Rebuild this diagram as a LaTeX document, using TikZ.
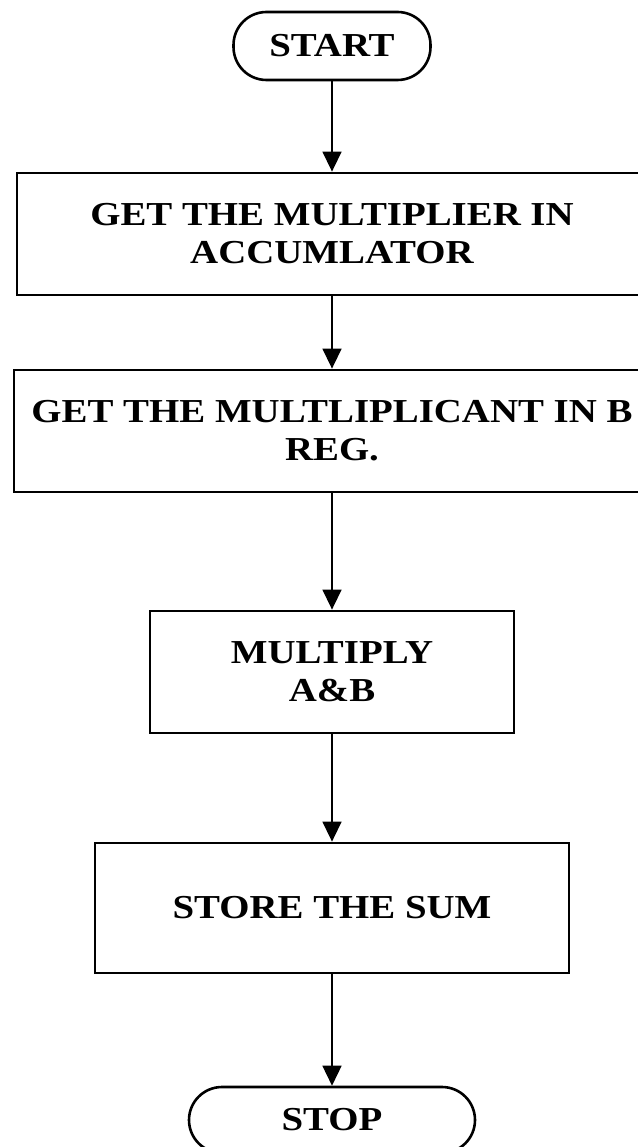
\documentclass[tikz,border=0pt]{standalone}
\usepackage{fontspec}
\newfontfamily\flowfont[FakeStretch=1.16]{Liberation Serif}
\usetikzlibrary{arrows.meta}
\begin{document}
\begin{tikzpicture}[x=1pt,y=-1pt,
  every node/.style={font=\flowfont\bfseries\fontsize{33.5}{38}\selectfont, align=center, inner sep=0pt},
  term/.style={draw, line width=2.6pt, rounded corners=33pt},
  procbox/.style={draw, line width=2.8pt},
  flow/.style={line width=1.5pt, -{Triangle[width=19pt,length=20pt]}}]
\useasboundingbox (0,0) rectangle (637,1147);
\fill[white] (0,0) rectangle (637,1147);
\node[term, minimum width=197pt, minimum height=68pt] (start) at (332,46) {START};
\node[procbox, minimum width=630pt, minimum height=122pt] (b1) at (332,234) {GET THE MULTIPLIER IN\\ACCUMLATOR};
\node[procbox, minimum width=636pt, minimum height=122pt] (b2) at (332,431) {GET THE MULTLIPLICANT IN B\\REG.};
\node[procbox, minimum width=364pt, minimum height=122pt] (b3) at (332,672) {MULTIPLY\\A\&B};
\node[procbox, minimum width=474pt, minimum height=130pt] (b4) at (332,908) {STORE THE SUM};
\node[term, minimum width=286pt, minimum height=66pt] (stop) at (332,1120) {STOP};
\draw[flow] (start) -- (b1);
\draw[flow] (b1) -- (b2);
\draw[flow] (b2) -- (b3);
\draw[flow] (b3) -- (b4);
\draw[flow] (b4) -- (stop);
\end{tikzpicture}
\end{document}
